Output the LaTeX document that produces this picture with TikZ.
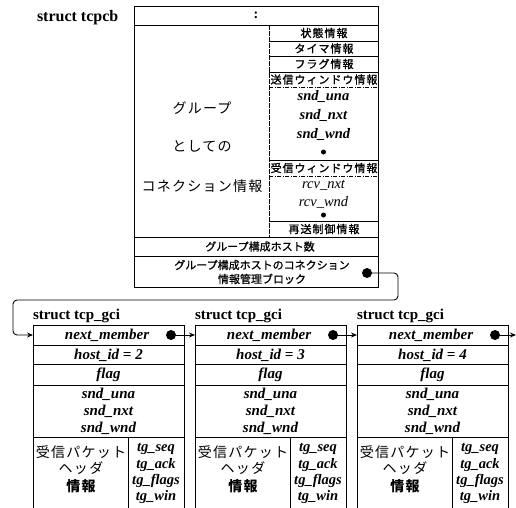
\documentclass[tikz,border=0pt]{standalone}
\usepackage{fontspec}
\setmainfont{Liberation Serif}
\newfontfamily\jp[LetterSpace=9]{Noto Sans CJK JP}
\newfontfamily\jpm[LetterSpace=9, FakeBold=1.2]{Noto Sans CJK JP}
\newfontfamily\jpn[FakeBold=0.8]{Noto Sans CJK JP}
\usetikzlibrary{arrows.meta}
\begin{document}
\begin{tikzpicture}[x=1pt,y=-1pt,
  every node/.style={inner sep=0pt, outer sep=0pt},
  frame/.style={draw, line width=0.9pt, anchor=north west},
  rule/.style={line width=0.8pt},
  dd/.style={line width=0.8pt, dash pattern=on 4pt off 1.5pt on 1pt off 1.5pt},
  vdash/.style={line width=0.8pt, dash pattern=on 5pt off 1pt},
  lbl/.style={font=\fontsize{15}{15}\selectfont\bfseries, anchor=base west},
  fbi/.style={font=\fontsize{15}{15}\selectfont\bfseries\itshape},
  fbs/.style={font=\fontsize{14.5}{14.5}\selectfont\bfseries\itshape},
  fi/.style={font=\fontsize{14.5}{14.5}\selectfont\itshape},
  jpS/.style={font=\jpm\fontsize{11}{11}\selectfont},
  jpT/.style={font=\jpn\fontsize{11}{11}\selectfont},
  jpL/.style={font=\jp\fontsize{14}{14}\selectfont},
  bigdot/.style={circle, fill, minimum size=10pt},
  smdot/.style={circle, fill, minimum size=5pt},
  arr/.style={line width=0.9pt, -{Stealth[length=6pt,width=5pt]}},
]
\useasboundingbox (0,0) rectangle (516,507);
\clip (0,0) rectangle (516,507);

% ---- struct tcpcb ----
\node[lbl, font=\fontsize{16}{16}\selectfont\bfseries] (tl) at (37,21.5) {struct tcpcb};
\node[frame, minimum width=244, minimum height=281] (tcpcb) at (134,6) {};
\node[font=\fontsize{14}{14}\selectfont\bfseries] (colon) at (256,15) {:};
\draw[rule] (134,25) -- (378,25);
\draw[vdash] (269,25) -- (269,237);
\draw[rule] (269,41) -- (378,41);
\draw[rule] (269,56) -- (378,56);
\draw[rule] (269,72) -- (378,72);
\draw[dd] (269,87) -- (378,87);
\draw[rule] (269,160) -- (378,160);
\draw[dd] (269,176) -- (378,176);
\draw[rule] (269,221) -- (378,221);
\draw[rule] (134,237) -- (378,237);
\draw[rule] (134,256) -- (378,256);

\node[jpL] (g1) at (202,108) {グループ};
\node[jpL] (g2) at (202,146) {としての};
\node[jpL] (g3) at (202,186) {コネクション情報};

\node[jpS] (r1) at (324,33) {状態情報};
\node[jpS] (r2) at (324,48.5) {タイマ情報};
\node[jpS] (r3) at (324,64) {フラグ情報};
\node[jpS] (r4) at (324,79.5) {送信ウィンドウ情報};
\node[fbs] (s1) at (323.5,96) {snd\_una};
\node[fbs] (s2) at (323.5,115) {snd\_nxt};
\node[fbs] (s3) at (323.5,134) {snd\_wnd};
\node[smdot] (sd) at (323.5,152) {};
\node[jpS] (r5) at (324,168) {受信ウィンドウ情報};
\node[fi] (v1) at (323.5,185) {rcv\_nxt};
\node[fi] (v2) at (323.5,202) {rcv\_wnd};
\node[smdot] (vd) at (323.5,215) {};
\node[jpS] (r6) at (324,229) {再送制御情報};
\node[jpT] (r7) at (260,246.5) {グループ構成ホスト数};
\node[jpT, align=center] (r8) at (262,272) {グループ構成ホストのコネクション\\[3pt]情報管理ブロック};
\node[bigdot] (d0) at (367,273) {};

% ---- struct tcp_gci ----
\foreach \k/\h in {0/2,1/3,2/4}{
  \pgfmathsetmacro\L{33+162*\k}
  \node[lbl] (gl\k) at (\L,319) {struct tcp\_gci};
  \node[frame, minimum width=151, minimum height=200] (g\k) at (\L,325) {};
  \coordinate (gin\k) at (\L,335);
  \draw[rule] (\L,345) -- ++(151,0);
  \draw[rule] (\L,364) -- ++(151,0);
  \draw[rule] (\L,385) -- ++(151,0);
  \draw[rule] (\L,437) -- ++(151,0);
  \draw[rule] (\L+95,437) -- (\L+95,520);
  \node[fbi] (nm\k) at (\L+74,335) {next\_member};
  \node[bigdot] (gd\k) at (\L+138,335) {};
  \node[fbi] (hi\k) at (\L+75.5,355) {host\_id = \h};
  \node[fbi] (fl\k) at (\L+75.5,375) {flag};
  \node[fbi] (su\k) at (\L+75.5,394) {snd\_una};
  \node[fbi] (sn\k) at (\L+75.5,411) {snd\_nxt};
  \node[fbi] (sw\k) at (\L+75.5,428) {snd\_wnd};
  \node[jpL] (p1\k) at (\L+48,452) {受信パケット};
  \node[jpL] (p2\k) at (\L+48,468) {ヘッダ};
  \node[jpL, font=\jp\bfseries\fontsize{14}{14}\selectfont] (p3\k) at (\L+48,486) {情報};
  \node[fbs] (t1\k) at (\L+123,449) {tg\_seq};
  \node[fbs] (t2\k) at (\L+123,465) {tg\_ack};
  \node[fbs] (t3\k) at (\L+123,481) {tg\_flags};
  \node[fbs] (t4\k) at (\L+123,497) {tg\_win};
}
\coordinate (gout) at (516,335);

% ---- connectors ----
\draw[arr, rounded corners=4pt] (d0.center) -- (398,273) -- (398,300) -- (13,300) -- (13,335) -- (gin0);
\draw[arr] (gd0.center) -- (gin1);
\draw[arr] (gd1.center) -- (gin2);
\draw[arr] (gd2.center) -- (gout);
\end{tikzpicture}
\end{document}
